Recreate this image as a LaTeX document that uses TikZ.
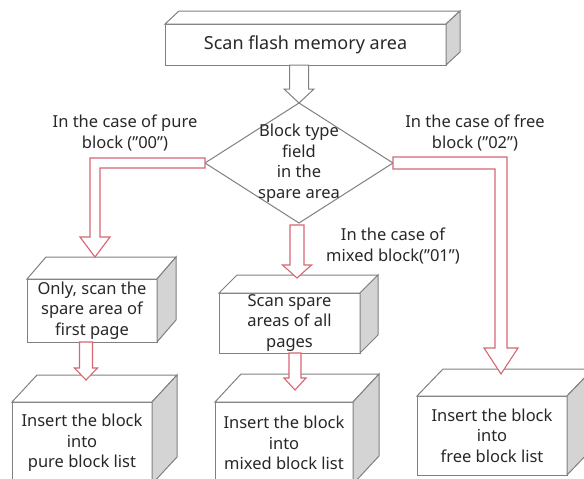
\documentclass[tikz,border=0pt]{standalone}
\usepackage{fontspec}
\setmainfont{Noto Sans}
\usetikzlibrary{shapes.geometric,calc}
\definecolor{boxgray}{RGB}{128,128,128}
\definecolor{sidegray}{RGB}{212,212,212}
\definecolor{arrowred}{RGB}{214,102,114}
\definecolor{textgray}{RGB}{40,40,40}

\newcommand{\boxdepth}[3]{%
  \filldraw[boxgray, fill=white, line width=1pt] (#1.north west) -- ++(#2,-#3) -- ($(#1.north east)+(#2,-#3)$) -- (#1.north east) -- cycle;
  \filldraw[boxgray, fill=sidegray, line width=1pt] (#1.north east) -- ++(#2,-#3) -- ($(#1.south east)+(#2,-#3)$) -- (#1.south east) -- cycle;}
\newcommand{\blockarrow}[6]{%
  \draw[#1] let \p1=#2, \p2=#3 in (\x2-#4,\y1) -- (\x2-#4,\y2+#6) -- (\x2-#5,\y2+#6) -- (\p2) -- (\x2+#5,\y2+#6) -- (\x2+#4,\y2+#6) -- (\x2+#4,\y1) -- cycle;}

\begin{document}
\begin{tikzpicture}[x=1pt, y=-1pt,
    front/.style={draw=boxgray, fill=white, line width=1pt, outer sep=0pt, inner sep=0pt, align=center, text=textgray, font=\fontsize{16.5}{20.5}\selectfont},
    decision/.style={diamond, draw=boxgray, fill=white, line width=1pt, outer sep=0pt, inner sep=0pt, minimum width=188pt, minimum height=120pt},
    caption/.style={align=center, text=textgray, font=\fontsize{16.5}{20.5}\selectfont},
    redarrow/.style={draw=arrowred, fill=white, line width=1.1pt, line join=miter},
    grayarrow/.style={draw=boxgray, fill=white, line width=1pt, line join=miter}]
  \useasboundingbox (0,0) rectangle (584,479);
  \clip (0,0) rectangle (584,479);

  \node[front, minimum width=281pt, minimum height=41pt, font=\fontsize{18}{22}\selectfont] (scan) at (305.5,44.5) {Scan flash memory area};
  \boxdepth{scan}{14}{13}
  \node[decision, label={[caption]center:Block type\\field\\in the\\spare area}] (type) at (299,163) {};

  \node[front, minimum width=130pt, minimum height=63pt] (pure1) at (92,310.5) {Only, scan the\\spare area of\\first page};
  \boxdepth{pure1}{19}{22}
  \node[front, minimum width=141pt, minimum height=60pt] (mixed1) at (289.5,323) {Scan spare\\areas of all\\pages};
  \boxdepth{mixed1}{18}{18}
  \node[front, minimum width=140pt, minimum height=82pt] (pure2) at (82,443) {Insert the block\\into\\pure block list};
  \boxdepth{pure2}{25}{27}
  \node[front, minimum width=138pt, minimum height=82pt] (mixed2) at (284,443) {Insert the block\\into\\mixed block list};
  \boxdepth{mixed2}{26}{28}
  \node[front, minimum width=150pt, minimum height=79pt] (free) at (492,435.5) {Insert the block\\into\\free block list};
  \boxdepth{free}{26}{27}

  \node[caption] (purecase) at (125,133) {In the case of pure\\block ("00")};
  \node[caption] (freecase) at (475,133) {In the case of free\\block ("02")};
  \node[caption] (mixedcase) at (393,246) {In the case of\\mixed block("01")};

  \coordinate (puretip) at (95,257);
  \coordinate (freetip) at (501,374);
  \coordinate (mixedtip) at (297,278);
  \coordinate (puretip2) at (86,380);
  \coordinate (mixedtip2) at (295,390);

  \blockarrow{grayarrow}{(scan.south)}{(type.north)}{9.5pt}{15pt}{14pt}
  \blockarrow{redarrow}{($(type.south)+(0,2)$)}{(mixedtip)}{7pt}{14.5pt}{13pt}
  \blockarrow{redarrow}{(pure1.south)}{(puretip2)}{6.5pt}{11.5pt}{12pt}
  \blockarrow{redarrow}{(mixed1.south)}{(mixedtip2)}{6pt}{11pt}{12pt}

  \draw[redarrow] let \p1=(type.west), \p2=(puretip) in (\x1,\y1+5pt) -- (\x2-5pt,\y1+5pt) -- (\x2-5pt,\y2+20pt) -- (\x2-15pt,\y2+20pt) -- (\p2) -- (\x2+15pt,\y2+20pt) -- (\x2+5pt,\y2+20pt) -- (\x2+5pt,\y1-5pt) -- (\x1,\y1-5pt) -- cycle;
  \draw[redarrow] let \p1=(type.east), \p2=(freetip) in (\x1,\y1+6pt) -- (\x2+6pt,\y1+6pt) -- (\x2+6pt,\y2+26pt) -- (\x2+17pt,\y2+26pt) -- (\p2) -- (\x2-17pt,\y2+26pt) -- (\x2-6pt,\y2+26pt) -- (\x2-6pt,\y1-6pt) -- (\x1,\y1-6pt) -- cycle;
\end{tikzpicture}
\end{document}
